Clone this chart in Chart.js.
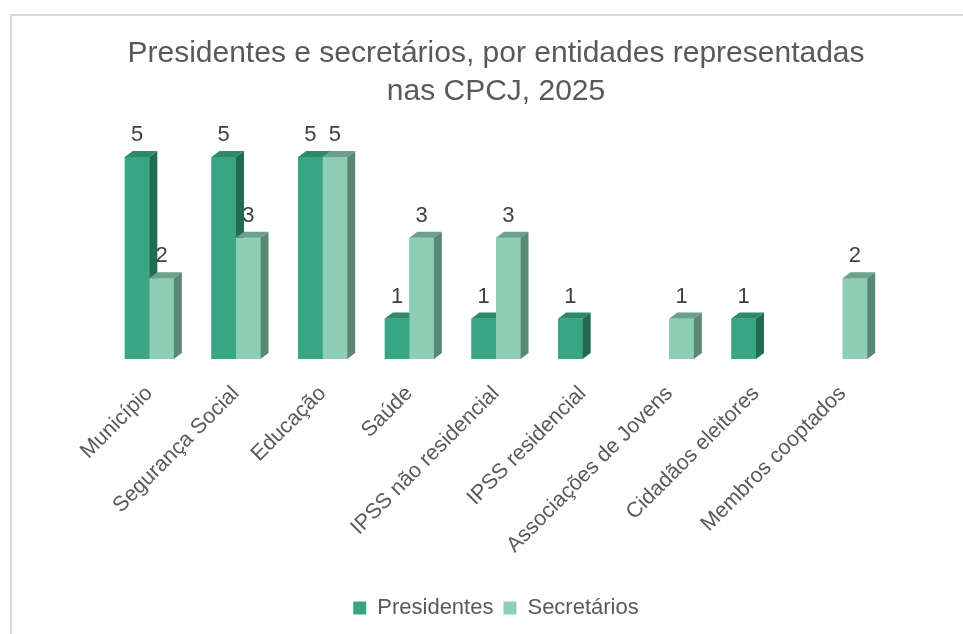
<!DOCTYPE html>
<html lang="pt">
<head>
  <meta charset="UTF-8">
  <title>Presidentes e secretários nas CPCJ, 2025</title>
  <script src="https://cdn.jsdelivr.net/npm/chart.js"></script>
</head>

<style>
  html, body {
    margin: 0;
    padding: 0;
    background: #ffffff;
    overflow: hidden;
  }
  #frame {
    position: absolute;
    left: 10px;
    top: 14px;
    width: 980px;
    height: 660px;
    border-left: 2px solid #d9d9d9;
    border-top: 2px solid #d9d9d9;
  }
  #wrap {
    position: absolute;
    left: 0;
    top: 0;
    width: 963px;
    height: 634px;
  }
</style>

<body>
  <div id="frame"></div>
  <div id="wrap"><canvas id="chart"></canvas></div>
</body>

<script>
  // data
  const categories = [
    "Município", "Segurança Social", "Educação", "Saúde", "IPSS não residencial",
    "IPSS residencial", "Associações de Jovens", "Cidadãos eleitores", "Membros cooptados"
  ];
  const presidentes = [5, 5, 5, 1, 1, 1, null, 1, null];
  const secretarios = [2, 3, 5, 3, 3, null, 1, null, 2];

  // front / top / side colours for the fake 3d columns
  const faces = [
    { front: '#38a683', top: '#2c8a6b', side: '#236a52' },
    { front: '#8ecdb6', top: '#6ba08a', side: '#5b8874' }
  ];

  const DX = 8, DY = 6;
  const FONT = "'Liberation Sans', Arial, sans-serif";
  const BASELINE = 359;
  const PAD_BOTTOM = 5;

  // draws every column again, this time with top and side faces, then the value labels
  const columns3d = {
    id: 'columns3d',
    afterDatasetsDraw(chart) {
      const ctx = chart.ctx;
      ctx.save();
      for (let i = 0; i < categories.length; i++) {
        for (let d = 0; d < chart.data.datasets.length; d++) {
          const value = chart.data.datasets[d].data[i];
          if (value === null || value === undefined) continue;
          const bar = chart.getDatasetMeta(d).data[i];
          const { x, y, base, width } = bar.getProps(['x', 'y', 'base', 'width'], true);
          const left = x - width / 2, right = x + width / 2;

          ctx.fillStyle = faces[d].front;
          ctx.fillRect(left, y, width, base - y);

          ctx.fillStyle = faces[d].top;
          ctx.beginPath();
          ctx.moveTo(left, y);
          ctx.lineTo(left + DX, y - DY);
          ctx.lineTo(right + DX, y - DY);
          ctx.lineTo(right, y);
          ctx.closePath();
          ctx.fill();

          ctx.fillStyle = faces[d].side;
          ctx.beginPath();
          ctx.moveTo(right, y);
          ctx.lineTo(right + DX, y - DY);
          ctx.lineTo(right + DX, base - DY);
          ctx.lineTo(right, base);
          ctx.closePath();
          ctx.fill();
        }
      }

      ctx.fillStyle = '#404040';
      ctx.font = '22px ' + FONT;
      ctx.textAlign = 'center';
      ctx.textBaseline = 'middle';
      for (let d = 0; d < chart.data.datasets.length; d++) {
        const meta = chart.getDatasetMeta(d);
        chart.data.datasets[d].data.forEach((v, i) => {
          if (v === null) return;
          const bar = meta.data[i];
          ctx.fillText(String(v), bar.x, bar.y - 22);
        });
      }
      ctx.restore();
    }
  };

  new Chart(document.getElementById('chart'), {
    type: 'bar',
    data: {
      labels: categories,
      datasets: [
        {
          label: 'Presidentes',
          data: presidentes,
          backgroundColor: faces[0].front,
          categoryPercentage: 0.566,
          barPercentage: 1
        },
        {
          label: 'Secretários',
          data: secretarios,
          backgroundColor: faces[1].front,
          categoryPercentage: 0.566,
          barPercentage: 1
        }
      ]
    },
    options: {
      responsive: true,
      maintainAspectRatio: false,
      animation: false,
      layout: {
        padding: { left: 106, right: 77, top: 0, bottom: PAD_BOTTOM }
      },
      plugins: {
        tooltip: { enabled: false },
        title: {
          display: true,
          text: ['Presidentes e secretários, por entidades representadas', 'nas CPCJ, 2025'],
          color: '#595959',
          font: { family: FONT, size: 30, weight: 'normal', lineHeight: 1.267 },
          padding: { top: 35, bottom: 46 }
        },
        legend: {
          position: 'bottom',
          labels: {
            color: '#595959',
            font: { family: FONT, size: 22 },
            boxWidth: 13,
            boxHeight: 13,
            padding: 10
          }
        }
      },
      scales: {
        x: {
          grid: { display: false, drawTicks: false },
          border: { display: false },
          ticks: {
            color: '#595959',
            font: { family: FONT, size: 21.5 },
            minRotation: 45,
            maxRotation: 45,
            padding: 22,
            autoSkip: false
          },
          afterFit(scale) {
            const legendH = scale.chart.legend ? scale.chart.legend.height : 40;
            scale.height = 634 - BASELINE - legendH - PAD_BOTTOM;
          }
        },
        y: {
          display: false,
          min: 0,
          max: 5
        }
      }
    },
    plugins: [columns3d]
  });
</script>
</html>
